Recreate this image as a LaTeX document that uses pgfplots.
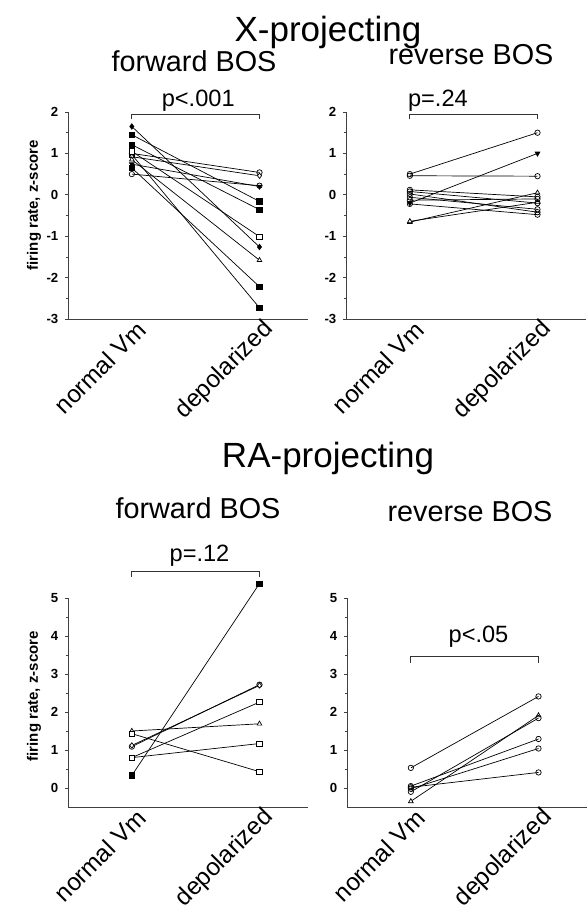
\documentclass[border=0pt]{standalone}
\usepackage{fontspec}
\setmainfont{Liberation Sans}
\usepackage{pgfplots}
\pgfplotsset{compat=1.18}
\pgfplotsset{
  panel/.style={scale only axis, width=120pt,
    xmin=0.5, xmax=2.38,
    axis x line*=bottom, axis y line*=left,
    axis line style={-, black!75, line width=0.45pt},
    xtick={1,2}, xticklabels={normal Vm, depolarized},
    xticklabel style={rotate=45, anchor=east, xshift=5.5pt, yshift=-5pt,
      font=\fontsize{12.2}{13}\selectfont},
    x tick style={draw=none},
    tick align=outside, major tick length=1.3pt, minor tick length=0.8pt,
    minor y tick num=1, y tick style={black!75, line width=0.4pt},
    yticklabel style={font=\bfseries\fontsize{6.6}{7}\selectfont},
    /pgf/number format/assume math mode=true,
    clip=false},
  pr/.style={black, line width=0.35pt, mark size=1.35pt,
    mark options={solid, line width=0.35pt}},
  op/.style={pr, mark options={solid, fill=white, line width=0.35pt}},
}
\tikzset{
  bracket/.style={black!80, line width=0.45pt},
  plab/.style={font=\fontsize{11.8}{13}\selectfont, inner sep=0pt, anchor=base},
  ttl/.style={font=\fontsize{17.5}{19}\selectfont, inner sep=0pt, anchor=base},
  sub/.style={font=\fontsize{14.4}{15}\selectfont, inner sep=0pt, anchor=base},
}
\begin{document}
\begin{tikzpicture}
\useasboundingbox (0,0) rectangle (293.5pt,-462pt);

% titles
\node[ttl] at (164pt,-20.85pt) {X-projecting};
\node[sub] at (97pt,-35.85pt) {forward BOS};
\node[sub] at (235.5pt,-32.5pt) {reverse BOS};
\node[ttl] at (164pt,-233.5pt) {RA-projecting};
\node[sub] at (99pt,-259pt) {forward BOS};
\node[sub] at (235pt,-260.5pt) {reverse BOS};

% X-projecting, forward BOS
\begin{axis}[panel, height=103.5pt, at={(34pt,-159.5pt)}, anchor=south west,
  ymin=-3, ymax=2, ytick={-3,...,2},
  ylabel={firing rate, z-score},
  ylabel style={font=\bfseries\fontsize{7.5}{8}\selectfont, at={(axis description cs:-0.142,0.55)}, anchor=center}]
\addplot[pr, mark=diamond*] coordinates {(1,1.65) (2,-1.26)};
\addplot[pr, mark=square*] coordinates {(1,1.45) (2,-0.16)};
\addplot[pr, mark=square*] coordinates {(1,1.21) (2,-0.36)};
\addplot[pr, mark=square*] coordinates {(1,0.97) (2,-2.73)};
\addplot[pr, mark=square*] coordinates {(1,0.65) (2,-2.22)};
\addplot[op, mark=o] coordinates {(1,1.00) (2,0.54)};
\addplot[op, mark=diamond*] coordinates {(1,0.92) (2,0.46)};
\addplot[op, mark=square*] coordinates {(1,1.05) (2,-1.01)};
\addplot[op, mark=triangle*] coordinates {(1,0.85) (2,-1.58)};
\addplot[op, mark=triangle*, mark options={rotate=180}] coordinates {(1,0.74) (2,0.20)};
\addplot[op, mark=o] coordinates {(1,0.50) (2,0.22)};
\draw[bracket] (axis cs:1,1.82) -- (axis cs:1,1.93) -- (axis cs:2,1.93) -- (axis cs:2,1.82);
\node[plab] at (axis cs:1.52,2.13) {p<.001};
\end{axis}

% X-projecting, reverse BOS
\begin{axis}[panel, height=103.5pt, at={(173pt,-159.5pt)}, anchor=south west,
  ymin=-3, ymax=2, ytick={-3,...,2}]
\addplot[op, mark=o] coordinates {(1,0.50) (2,1.50)};
\addplot[op, mark=o] coordinates {(1,0.46) (2,0.45)};
\addplot[op, mark=triangle*, mark options={rotate=180}] coordinates {(1,-0.20) (2,1.00)};
\addplot[op, mark=triangle*] coordinates {(1,-0.66) (2,0.05)};
\addplot[op, mark=triangle*] coordinates {(1,-0.64) (2,-0.18)};
\addplot[op, mark=o] coordinates {(1,0.12) (2,-0.05)};
\addplot[op, mark=o] coordinates {(1,0.08) (2,-0.20)};
\addplot[op, mark=o] coordinates {(1,0.02) (2,-0.42)};
\addplot[op, mark=o] coordinates {(1,-0.06) (2,-0.35)};
\addplot[op, mark=o] coordinates {(1,-0.13) (2,-0.10)};
\addplot[op, mark=o] coordinates {(1,-0.22) (2,-0.48)};
\draw[bracket] (axis cs:1,1.82) -- (axis cs:1,1.93) -- (axis cs:2,1.93) -- (axis cs:2,1.82);
\node[plab] at (axis cs:1.22,2.13) {p=.24};
\end{axis}

% RA-projecting, forward BOS
\begin{axis}[panel, height=104.5pt, at={(34pt,-403.5pt)}, anchor=south west,
  ymin=-0.5, ymax=5, ytick={0,...,5},
  ylabel={firing rate, z-score},
  ylabel style={font=\bfseries\fontsize{7.5}{8}\selectfont, at={(axis description cs:-0.142,0.53)}, anchor=center}]
\addplot[pr, mark=square*] coordinates {(1,0.33) (2,5.38)};
\addplot[op, mark=o] coordinates {(1,1.09) (2,2.72)};
\addplot[op, mark=diamond*] coordinates {(1,1.12) (2,2.70)};
\addplot[op, mark=square*] coordinates {(1,0.80) (2,2.26)};
\addplot[op, mark=square*] coordinates {(1,0.80) (2,1.17)};
\addplot[op, mark=triangle*] coordinates {(1,1.50) (2,1.69)};
\addplot[op, mark=square*] coordinates {(1,1.43) (2,0.43)};
\draw[bracket] (axis cs:1,5.56) -- (axis cs:1,5.70) -- (axis cs:2,5.70) -- (axis cs:2,5.56);
\node[plab] at (axis cs:1.53,5.95) {p=.12};
\end{axis}

% RA-projecting, reverse BOS
\begin{axis}[panel, height=104.5pt, at={(173.5pt,-403.5pt)}, anchor=south west,
  ymin=-0.5, ymax=5, ytick={0,...,5}]
\addplot[op, mark=o] coordinates {(1,0.53) (2,2.41)};
\addplot[op, mark=triangle*] coordinates {(1,-0.35) (2,1.91)};
\addplot[op, mark=o] coordinates {(1,-0.10) (2,1.84)};
\addplot[op, mark=o] coordinates {(1,0.05) (2,1.29)};
\addplot[op, mark=o] coordinates {(1,-0.02) (2,1.04)};
\addplot[op, mark=o] coordinates {(1,0.02) (2,0.41)};
\draw[bracket] (axis cs:1,3.29) -- (axis cs:1,3.47) -- (axis cs:2,3.47) -- (axis cs:2,3.29);
\node[plab] at (axis cs:1.53,3.82) {p<.05};
\end{axis}
\end{tikzpicture}
\end{document}
